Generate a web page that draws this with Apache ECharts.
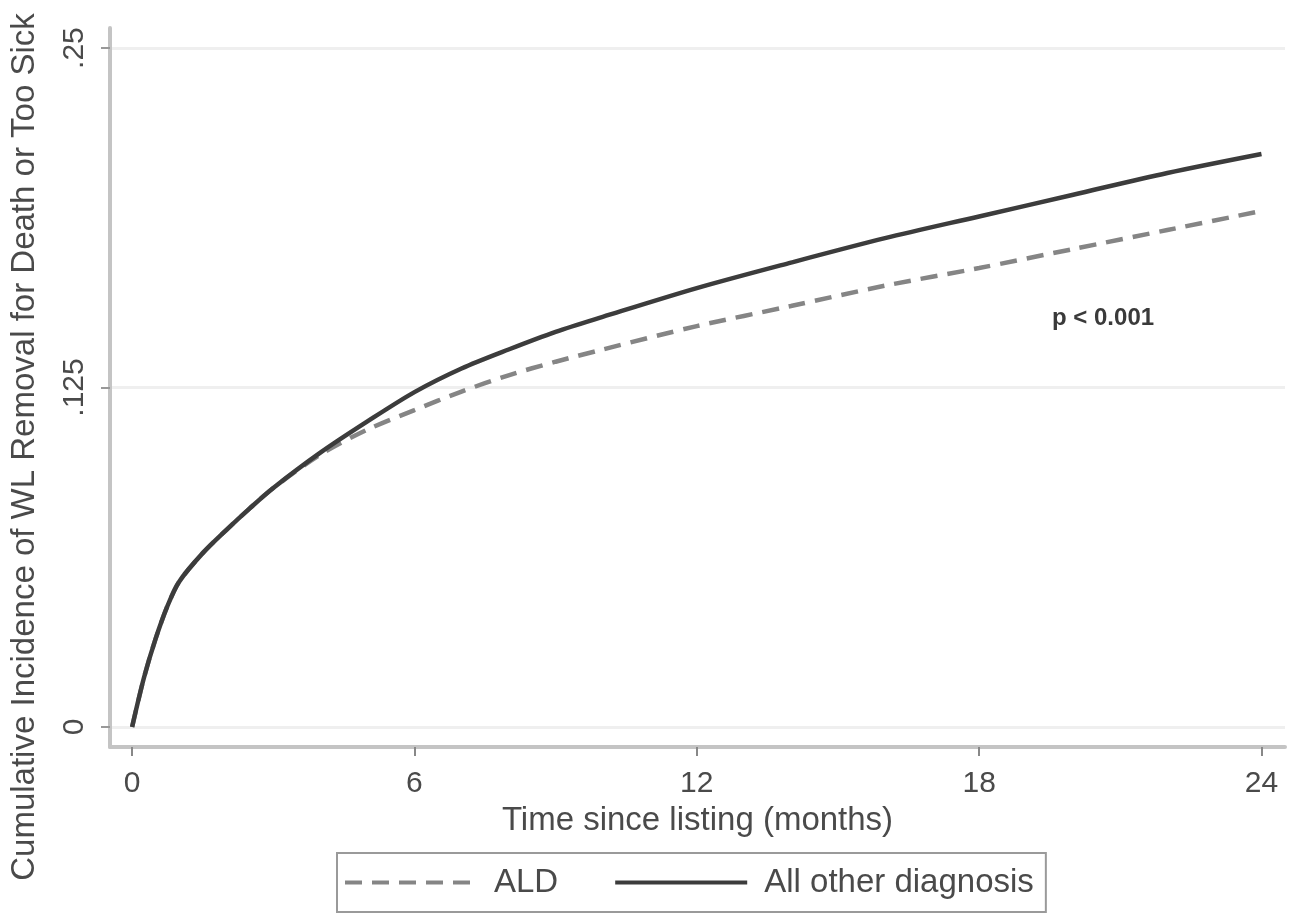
<!DOCTYPE html>
<html>
<head>
<meta charset="utf-8">
<script src="https://cdn.jsdelivr.net/npm/echarts@6/dist/echarts.min.js"></script>
<style>
html,body{margin:0;padding:0;background:#fff;}
#c{width:1298px;height:922px;}
</style>
</head>
<body>
<div id="c"></div>
<script>
// ---- data ----
const timeMonths = [0, 0.25, 0.5, 0.75, 1, 1.5, 2, 2.5, 3, 4, 5, 6, 7, 8, 9, 10, 12, 14, 16, 18, 20, 22, 24];
const aldValues = [0, 0.018, 0.0325, 0.0445, 0.0535, 0.064, 0.0725, 0.0805, 0.0880, 0.1003, 0.1095, 0.1167, 0.1235, 0.1295, 0.1345, 0.139, 0.1476, 0.155, 0.1625, 0.169, 0.176, 0.183, 0.190];
const otherValues = [0, 0.018, 0.0325, 0.0445, 0.0535, 0.064, 0.0725, 0.0805, 0.0880, 0.101, 0.1125, 0.1233, 0.132, 0.139, 0.1455, 0.151, 0.1616, 0.171, 0.180, 0.188, 0.196, 0.204, 0.211];
const xTicks = [0, 6, 12, 18, 24];
const yTicks = [0, 0.125, 0.25];
const yTickLabels = ['0', '.125', '.25'];
const seriesNames = ['ALD', 'All other diagnosis'];
const xTitle = 'Time since listing (months)';
const yTitle = 'Cumulative Incidence of WL Removal for Death or Too Sick';
const pText = 'p < 0.001';

const pair = (xs, ys) => xs.map((x, i) => [x, ys[i]]);
const FONT = '"Liberation Sans", Arial, sans-serif';
const TXT = '#4a4a4a';

const chart = echarts.init(document.getElementById('c'), null, {renderer: 'canvas'});
chart.setOption({
  animation: false,
  backgroundColor: '#ffffff',
  grid: {left: 110, right: 13, top: 28, bottom: 175, containLabel: false},
  xAxis: {
    type: 'value',
    min: -0.47, max: 24.5,
    name: xTitle,
    nameLocation: 'middle',
    nameGap: 57,
    nameTextStyle: {fontSize: 33, color: TXT, fontFamily: FONT},
    axisLine: {show: true, onZero: false, lineStyle: {color: '#c4c4c4', width: 4}},
    axisTick: {show: true, length: 9, customValues: xTicks, lineStyle: {color: '#888', width: 2}},
    axisLabel: {customValues: xTicks, fontSize: 30, color: TXT, margin: 22, fontFamily: FONT},
    splitLine: {show: false}
  },
  yAxis: {
    type: 'value',
    min: -0.0074, max: 0.2574,
    axisLine: {show: true, onZero: false, lineStyle: {color: '#c4c4c4', width: 4}},
    axisTick: {show: true, length: 9, customValues: yTicks, lineStyle: {color: '#999', width: 2}},
    axisLabel: {
      customValues: yTicks, rotate: 90, fontSize: 30, color: TXT, margin: 20, fontFamily: FONT,
      formatter: v => { const i = yTicks.findIndex(t => Math.abs(t - v) < 1e-9); return i >= 0 ? yTickLabels[i] : ''; }
    },
    splitLine: {show: true, lineStyle: {color: '#efefef', width: 3}}
  },
  legend: {
    left: 337, top: 853,
    orient: 'horizontal',
    padding: [13, 12, 13, 6],
    borderColor: '#9a9a9a', borderWidth: 2,
    itemWidth: 132, itemHeight: 14, itemGap: 55,
    itemStyle: {opacity: 0, borderWidth: 0},
    lineStyle: {width: 4},
    textStyle: {fontSize: 33, color: TXT, fontFamily: FONT, padding: [0, 0, 0, 12]},
    data: seriesNames
  },
  graphic: [
    {type: 'text', left: 1052, top: 306, style: {text: pText, font: 'bold 24px "Liberation Sans", Arial, sans-serif', fill: '#3a3a3a'}},
    {type: 'text', x: 8, y: 447, rotation: Math.PI / 2,
     style: {text: yTitle, font: '33px "Liberation Sans", Arial, sans-serif', fill: TXT, align: 'center', verticalAlign: 'top'}}
  ],
  series: [
    {
      name: seriesNames[0], type: 'line', data: pair(timeMonths, aldValues),
      smooth: 0.3, symbol: 'none', z: 2,
      lineStyle: {color: '#858585', width: 4.5, type: [17, 10]},
      itemStyle: {color: '#858585'}
    },
    {
      name: seriesNames[1], type: 'line', data: pair(timeMonths, otherValues),
      smooth: 0.3, symbol: 'none', z: 3,
      lineStyle: {color: '#3c3c3c', width: 4.5},
      itemStyle: {color: '#3c3c3c'}
    }
  ]
});
</script>
</body>
</html>
